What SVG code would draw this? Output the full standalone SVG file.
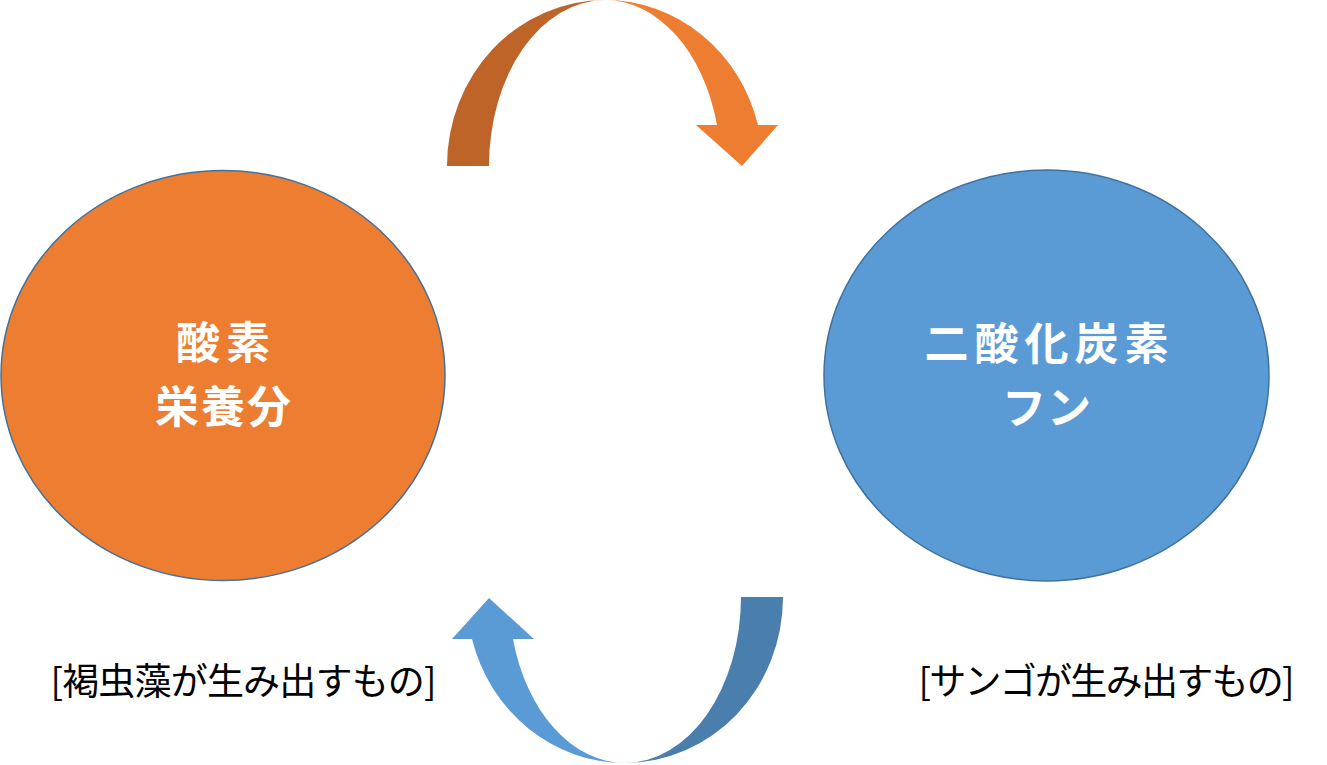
<svg xmlns="http://www.w3.org/2000/svg" width="1327" height="765" viewBox="0 0 1327 765">
<style>
.node-o{fill:#ED7D31;stroke:#41719C;stroke-width:1.5}
.node-b{fill:#5B9BD5;stroke:#41719C;stroke-width:1.5}
.t-in{font-family:"Noto Sans CJK JP","Noto Sans",sans-serif;font-size:44px;font-weight:bold;fill:#FFFFFF;text-anchor:middle}
.t-lab{font-family:"Noto Sans CJK JP","Noto Sans",sans-serif;font-size:37px;fill:#000000;text-anchor:middle}
</style>
<rect width="1327" height="765" fill="#FFFFFF"/>
<g id="connectors">
  <g id="arrow-top">
    <path d="M447,166 A158,166 0 0 1 605,0 A116,166 0 0 0 489,166 Z" fill="#BE6428"/>
    <path d="M605,0 A158,166 0 0 1 758,125 L778,125 L742,166 L696,125 L717,125 A116,166 0 0 0 605,0 Z" fill="#ED7D31"/>
  </g>
  <g id="arrow-bottom">
    <path d="M783,597 A158,166 0 0 1 625,763 A116,166 0 0 0 741,597 Z" fill="#4A7EAD"/>
    <path d="M625,763 A158,166 0 0 1 472,639 L452,639 L489,598 L534,639 L513,639 A116,166 0 0 0 625,763 Z" fill="#5B9BD5"/>
  </g>
</g>
<g id="node-oxygen">
  <ellipse class="node-o" cx="223" cy="375.5" rx="222" ry="205"/>
  <text class="t-in"><tspan x="223" y="359" textLength="94" lengthAdjust="spacing">酸素</tspan><tspan x="223" y="423" textLength="136" lengthAdjust="spacing">栄養分</tspan></text>
</g>
<g id="node-co2">
  <ellipse class="node-b" cx="1046.5" cy="375.5" rx="222.5" ry="205.5"/>
  <text class="t-in"><tspan x="1046.5" y="360" textLength="244" lengthAdjust="spacing">二酸化炭素</tspan><tspan x="1046.5" y="424">フン</tspan></text>
</g>
<g id="label-left">
  <text class="t-lab" x="243.5" y="695" textLength="386" lengthAdjust="spacing">[褐虫藻が生み出すもの]</text>
</g>
<g id="label-right">
  <text class="t-lab" x="1106.5" y="695" textLength="376" lengthAdjust="spacing">[サンゴが生み出すもの]</text>
</g>
</svg>
